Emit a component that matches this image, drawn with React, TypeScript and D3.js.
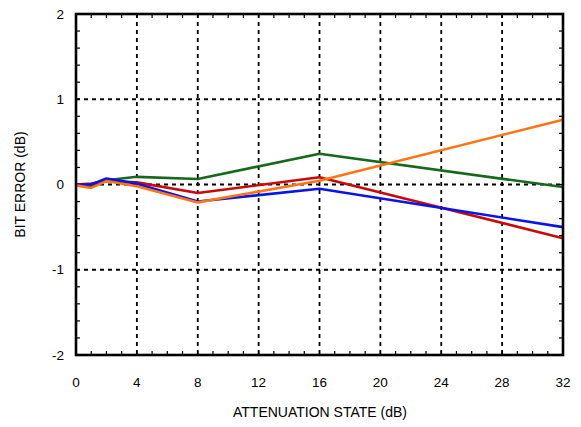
import React from "react";
import * as d3 from "d3";

const xs = [0, 1, 2, 4, 8, 16, 32];
const green = [0, -0.02, 0.05, 0.09, 0.065, 0.36, -0.03];
const red = [0, 0.01, 0.04, 0.025, -0.1, 0.085, -0.63];
const blue = [0, 0.0, 0.07, 0.01, -0.2, -0.05, -0.5];
const orange = [-0.01, -0.04, 0.04, -0.02, -0.21, 0.045, 0.76];

const seriesList = [
  { name: "green", values: green, color: "#16691c" },
  { name: "red", values: red, color: "#c80a0a" },
  { name: "blue", values: blue, color: "#0a14e6" },
  { name: "orange", values: orange, color: "#ff7414" },
];

const xTicks = [0, 4, 8, 12, 16, 20, 24, 28, 32];
const yTicks = [-2, -1, 0, 1, 2];

const W = 581;
const H = 427;
const M = { left: 76, right: 563, top: 14, bottom: 355 };

export default function App() {
  const x = d3.scaleLinear().domain([0, 32]).range([M.left, M.right]);
  const y = d3.scaleLinear().domain([-2, 2]).range([M.bottom, M.top]);
  const line = d3
    .line<number>()
    .x((_, i) => x(xs[i]))
    .y((d) => y(d));

  const xMinor = d3.range(0, 33, 1);
  const yMinor = d3.range(-2, 2.0001, 0.2);
  const font = "'Liberation Sans', Arial, Helvetica, sans-serif";

  return (
    <svg
      width={W}
      height={H}
      style={{ position: "absolute", left: 0, top: 0, background: "#fff" }}
      fontFamily={font}
    >
      <rect x={0} y={0} width={W} height={H} fill="#fff" />
      {/* grid */}
      {xTicks
        .filter((t) => t > 0 && t < 32)
        .map((t) => (
          <line
            key={"gx" + t}
            x1={x(t)}
            x2={x(t)}
            y1={M.top}
            y2={M.bottom}
            stroke="#000"
            strokeWidth={1.8}
            strokeDasharray="4,4"
          />
        ))}
      {yTicks
        .filter((t) => t > -2 && t < 2)
        .map((t) => (
          <line
            key={"gy" + t}
            x1={M.left}
            x2={M.right}
            y1={y(t)}
            y2={y(t)}
            stroke="#000"
            strokeWidth={1.8}
            strokeDasharray="4,4"
          />
        ))}
      {/* minor ticks */}
      {xMinor.map((t) => (
        <g key={"mx" + t}>
          <line x1={x(t)} x2={x(t)} y1={M.bottom} y2={M.bottom - 4} stroke="#000" strokeWidth={1.2} />
          <line x1={x(t)} x2={x(t)} y1={M.top} y2={M.top + 4} stroke="#000" strokeWidth={1.2} />
        </g>
      ))}
      {yMinor.map((t, i) => (
        <g key={"my" + i}>
          <line x1={M.left} x2={M.left + 4} y1={y(t)} y2={y(t)} stroke="#000" strokeWidth={1.2} />
          <line x1={M.right} x2={M.right - 4} y1={y(t)} y2={y(t)} stroke="#000" strokeWidth={1.2} />
        </g>
      ))}
      {/* series */}
      {seriesList.map((s) => (
        <path
          key={s.name}
          d={line(s.values) || ""}
          fill="none"
          stroke={s.color}
          strokeWidth={2.6}
          strokeLinejoin="round"
        />
      ))}
      {/* border */}
      <rect
        x={M.left}
        y={M.top}
        width={M.right - M.left}
        height={M.bottom - M.top}
        fill="none"
        stroke="#000"
        strokeWidth={2.6}
      />
      {/* tick labels */}
      {xTicks.map((t) => (
        <text key={"xl" + t} x={x(t)} y={387} fontSize={13.5} textAnchor="middle" fill="#000">
          {t}
        </text>
      ))}
      {yTicks.map((t) => (
        <text
          key={"yl" + t}
          x={64}
          y={y(t)}
          dy="0.35em"
          fontSize={13.5}
          textAnchor="end"
          fill="#000"
        >
          {t}
        </text>
      ))}
      <text x={320} y={417} fontSize={14} textAnchor="middle" fill="#000">
        ATTENUATION STATE (dB)
      </text>
      <text
        transform={`translate(25, ${(M.top + M.bottom) / 2}) rotate(-90)`}
        fontSize={14}
        textAnchor="middle"
        fill="#000"
      >
        BIT ERROR (dB)
      </text>
    </svg>
  );
}
